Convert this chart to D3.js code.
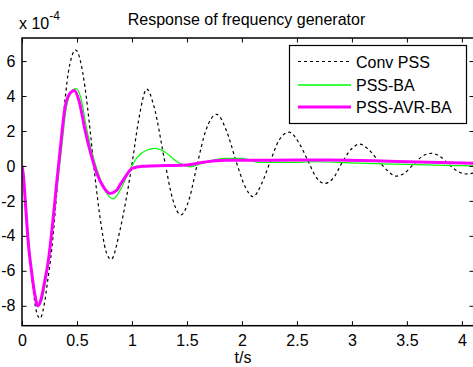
<!DOCTYPE html>
<html>
<head>
<meta charset="utf-8">
<script src="https://cdn.jsdelivr.net/npm/d3@7"></script>
<style>
  body { margin: 0; background: #fff; }
  text { font-family: "Liberation Sans", Arial, sans-serif; }
</style>
</head>
<body>
<div id="chart"></div>
<script>
// values, y in units of 1e-4
var convT = [0, 0.03, 0.06, 0.1, 0.13, 0.164, 0.2, 0.235, 0.27, 0.32, 0.376, 0.42, 0.488, 0.573, 0.62, 0.66, 0.72, 0.76, 0.81, 0.89, 0.95, 1.0, 1.06, 1.135, 1.2, 1.3, 1.37, 1.445, 1.52, 1.59, 1.67, 1.77, 1.86, 1.95, 2.03, 2.1, 2.18, 2.26, 2.34, 2.43, 2.52, 2.6, 2.67, 2.75, 2.83, 2.92, 3.0, 3.07, 3.15, 3.24, 3.32, 3.4, 3.48, 3.56, 3.64, 3.72, 3.8, 3.88, 3.96, 4.04, 4.11];
var convV = [0, -1.8, -4.3, -7.0, -8.3, -8.72, -8.0, -6.5, -4.8, -1.3, 2.8, 5.3, 6.63, 4.5, 2.0, -0.4, -3.4, -4.8, -5.35, -3.7, -1.8, 0.1, 2.6, 4.4, 3.4, 0.2, -1.9, -2.8, -1.9, 0.0, 2.0, 2.95, 2.0, 0.2, -1.2, -1.76, -1.0, 0.3, 1.5, 1.93, 1.3, 0.3, -0.6, -1.0, -0.7, 0.3, 1.0, 1.25, 0.95, 0.3, -0.25, -0.58, -0.4, 0.1, 0.55, 0.72, 0.55, 0.1, -0.3, -0.46, -0.4];

var baT = [0, 0.03, 0.06, 0.09, 0.12, 0.15, 0.18, 0.21, 0.25, 0.29, 0.325, 0.36, 0.4, 0.445, 0.49, 0.535, 0.58, 0.635, 0.69, 0.75, 0.83, 0.9, 0.98, 1.05, 1.13, 1.21, 1.3, 1.41, 1.53, 1.62, 1.75, 1.86, 2.0, 2.16, 2.4, 2.7, 2.98, 3.5, 4.11];
var baV = [0, -2.2, -4.2, -6.0, -7.3, -8.0, -7.7, -6.8, -5.1, -3.0, -0.9, 1.0, 3.2, 4.2, 4.42, 3.9, 2.4, 0.8, -0.35, -1.35, -1.88, -1.3, -0.23, 0.5, 0.9, 1.0, 0.8, 0.24, -0.05, 0.12, 0.35, 0.43, 0.43, 0.2, 0.2, 0.24, 0.18, 0.09, 0.0];

var avrT = [0, 0.012, 0.035, 0.057, 0.088, 0.115, 0.143, 0.17, 0.2, 0.24, 0.28, 0.315, 0.345, 0.39, 0.43, 0.476, 0.52, 0.573, 0.63, 0.68, 0.74, 0.8, 0.86, 0.9, 0.95, 1.0, 1.1, 1.3, 1.5, 1.62, 1.86, 2.07, 2.5, 2.8, 3.2, 3.6, 4.11];
var avrV = [0, -0.5, -2.5, -4.4, -6.1, -7.3, -8.0, -7.7, -6.8, -5.4, -3.2, -1.0, 0.8, 3.3, 4.1, 4.32, 3.7, 2.05, 0.6, -0.42, -1.2, -1.57, -1.4, -1.0, -0.52, -0.14, -0.02, 0.02, 0.05, 0.18, 0.32, 0.32, 0.34, 0.34, 0.3, 0.22, 0.15];

var xTicks = [0, 0.5, 1, 1.5, 2, 2.5, 3, 3.5, 4];
var yTicks = [-8, -6, -4, -2, 0, 2, 4, 6];
var seriesNames = ['Conv PSS', 'PSS-BA', 'PSS-AVR-BA'];

function pairs(ts, vs) {
    return ts.map(function(t, i){ return { t: t, v: vs[i] }; });
}

function drawChart() {
    var width = 473, height = 367;
    var left = 22, top = 38, right = 474, bottom = 325.7;

    var svg = d3.select('#chart').append('svg')
        .attr('width', width)
        .attr('height', height);

    var x = d3.scaleLinear().domain([0, 4.11]).range([left, right]);
    var y = d3.scaleLinear().domain([-9.14, 7.32]).range([bottom, top]);

    svg.append('defs').append('clipPath').attr('id', 'plot')
        .append('rect')
        .attr('x', left).attr('y', top)
        .attr('width', right - left).attr('height', bottom - top);

    var line = d3.line()
        .x(function(d){ return x(d.t); })
        .y(function(d){ return y(d.v); })
        .curve(d3.curveMonotoneX);

    var plot = svg.append('g').attr('clip-path', 'url(#plot)');

    plot.append('path')
        .datum(pairs(convT, convV))
        .attr('fill', 'none')
        .attr('stroke', '#000')
        .attr('stroke-width', 1.2)
        .attr('stroke-dasharray', '3,3')
        .attr('d', line);

    plot.append('path')
        .datum(pairs(baT, baV))
        .attr('fill', 'none')
        .attr('stroke', '#00ff00')
        .attr('stroke-width', 1.2)
        .attr('d', line);

    plot.append('path')
        .datum(pairs(avrT, avrV))
        .attr('fill', 'none')
        .attr('stroke', '#ff00ff')
        .attr('stroke-width', 3)
        .attr('d', line);

    // Axes box with inward ticks on all four sides
    var tl = 4.5;
    svg.append('g')
        .attr('transform', 'translate(0,' + bottom + ')')
        .call(d3.axisBottom(x).tickValues(xTicks).tickSize(-tl).tickPadding(7)
            .tickFormat(function(d){ return String(d); }))
        .call(function(g){
            g.select('.domain').remove();
            g.selectAll('text').attr('dy', '0').attr('y', 20).style('font-size', '16px').attr('fill', '#000');
        });

    svg.append('g')
        .attr('transform', 'translate(0,' + top + ')')
        .call(d3.axisTop(x).tickValues(xTicks).tickSize(-tl).tickFormat(''))
        .call(function(g){ g.select('.domain').remove(); });

    svg.append('g')
        .attr('transform', 'translate(' + left + ',0)')
        .call(d3.axisLeft(y).tickValues(yTicks).tickSize(-tl)
            .tickFormat(function(d){ return String(d); }))
        .call(function(g){
            g.select('.domain').remove();
            g.selectAll('text').attr('x', -6.5).style('font-size', '16px').attr('fill', '#000');
        });

    svg.append('g')
        .attr('transform', 'translate(' + right + ',0)')
        .call(d3.axisRight(y).tickValues(yTicks).tickSize(-tl).tickFormat(''))
        .call(function(g){ g.select('.domain').remove(); });

    svg.selectAll('.tick line').attr('stroke', '#000').attr('stroke-width', 1);

    svg.append('rect')
        .attr('x', left).attr('y', top)
        .attr('width', right - left).attr('height', bottom - top)
        .attr('fill', 'none')
        .attr('stroke', '#000')
        .attr('stroke-width', 1.5);

    // Title, exponent and x label
    svg.append('text')
        .attr('x', 246.5).attr('y', 25)
        .attr('text-anchor', 'middle')
        .style('font-size', '16px')
        .text('Response of frequency generator');

    var expo = svg.append('text').attr('x', 19).attr('y', 29).style('font-size', '16px');
    expo.append('tspan').text('x 10');
    expo.append('tspan').attr('dy', -9).style('font-size', '12px').text('-4');

    svg.append('text')
        .attr('x', 243).attr('y', 363)
        .attr('text-anchor', 'middle')
        .style('font-size', '16px')
        .text('t/s');

    // Legend
    var legend = svg.append('g');
    legend.append('rect')
        .attr('x', 289.5).attr('y', 45.5)
        .attr('width', 177).attr('height', 78)
        .attr('fill', '#fff')
        .attr('stroke', '#000')
        .attr('stroke-width', 1.2);

    var rowY = [61.5, 85, 107];
    var strokes = ['#000', '#00ff00', '#ff00ff'];
    var widths = [1.2, 1.5, 3];
    seriesNames.forEach(function(name, i){
        legend.append('line')
            .attr('x1', 298).attr('y1', rowY[i])
            .attr('x2', 351).attr('y2', rowY[i])
            .attr('stroke', strokes[i])
            .attr('stroke-width', widths[i])
            .attr('stroke-dasharray', i === 0 ? '3,3' : null);
        legend.append('text')
            .attr('x', 356).attr('y', rowY[i] + 6)
            .style('font-size', '16px')
            .text(name);
    });
}

drawChart();
</script>
</body>
</html>
